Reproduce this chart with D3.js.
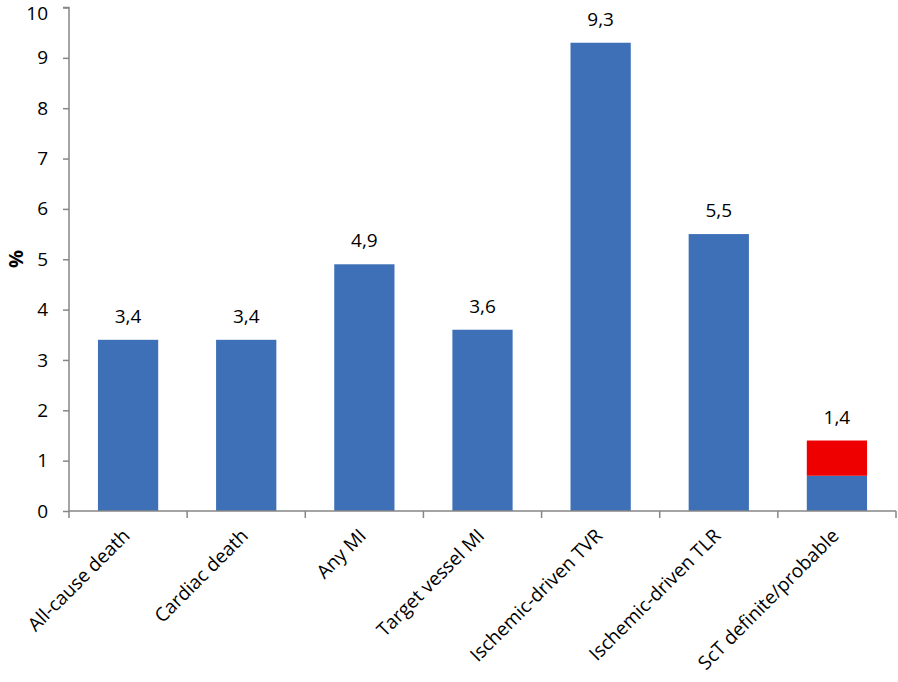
<!DOCTYPE html>
<html><head><meta charset="utf-8">
<script src="https://cdn.jsdelivr.net/npm/d3@7"></script>
<style>body{margin:0;background:#fff;} text{font-family:"Open Sans","Liberation Sans",sans-serif;}</style>
</head><body><svg id="c" width="898" height="682"></svg>
<script>
const categories = ["All-cause death","Cardiac death","Any MI","Target vessel MI","Ischemic-driven TVR","Ischemic-driven TLR","ScT definite/probable"];
const baseValues = [3.4,3.4,4.9,3.6,9.3,5.5,0.7];
const extraValues = [0,0,0,0,0,0,0.7];
const totalLabels = ["3,4","3,4","4,9","3,6","9,3","5,5","1,4"];
const yTicks = [0,1,2,3,4,5,6,7,8,9,10];

const svg = d3.select("#c");
const x = d3.scaleBand().domain(categories).range([69,896]).paddingInner(0.49).paddingOuter(0.245);
const y = d3.scaleLinear().domain([0,10]).range([511,7.5]);
const blue = "#3d70b7", red = "#ee0000", axisCol = "#868686";

const g = svg.append("g");
g.selectAll("rect.b").data(categories).join("rect")
  .attr("x", d=>x(d)).attr("width", x.bandwidth())
  .attr("y", (d,i)=>y(baseValues[i])).attr("height",(d,i)=>y(0)-y(baseValues[i]))
  .attr("fill", blue);
g.selectAll("rect.r").data(categories.filter((d,i)=>extraValues[i]>0)).join("rect")
  .attr("x", d=>x(d)).attr("width", x.bandwidth())
  .attr("y", d=>{const i=categories.indexOf(d);return y(baseValues[i]+extraValues[i]);})
  .attr("height", d=>{const i=categories.indexOf(d);return y(baseValues[i])-y(baseValues[i]+extraValues[i]);})
  .attr("fill", red);

g.selectAll("text.v").data(categories).join("text")
  .attr("x", d=>x(d)+x.bandwidth()/2)
  .attr("y", (d,i)=>y(baseValues[i]+extraValues[i])-17)
  .attr("text-anchor","middle").attr("font-size",19).attr("fill","#000")
  .text((d,i)=>totalLabels[i]);

// Y axis
const ya = svg.append("g").attr("transform","translate(69,0)")
  .call(d3.axisLeft(y).tickValues(yTicks).tickSize(6).tickPadding(15).tickFormat(d3.format("d")));
ya.select(".domain").attr("stroke",axisCol).attr("stroke-width",1.5).attr("d","M-6,7.5H0V511");
ya.selectAll(".tick line").attr("stroke",axisCol).attr("stroke-width",1.5);
ya.selectAll(".tick text").attr("font-size",19).attr("fill","#000").attr("font-family","Open Sans, sans-serif")
  .attr("dy", d=>d===10?"0.62em":"0.32em");

// X axis
const bounds = d3.range(categories.length+1).map(i=>69+i*(896-69)/categories.length);
const xa = svg.append("g");
xa.append("line").attr("x1",69).attr("x2",896).attr("y1",511).attr("y2",511).attr("stroke",axisCol).attr("stroke-width",1.5);
xa.selectAll("line.t").data(bounds).join("line")
  .attr("x1",d=>d).attr("x2",d=>d).attr("y1",511).attr("y2",518).attr("stroke",axisCol).attr("stroke-width",1.5);
xa.selectAll("text").data(categories).join("text")
  .attr("transform", d=>`translate(${x(d)+x.bandwidth()/2+3},${537}) rotate(-45)`)
  .attr("text-anchor","end").attr("font-size",19).attr("fill","#000")
  .text(d=>d);

svg.append("text").attr("transform","translate(23,259) rotate(-90)")
  .attr("text-anchor","middle").attr("font-size",20).attr("font-weight","bold").text("%");
</script></body></html>
